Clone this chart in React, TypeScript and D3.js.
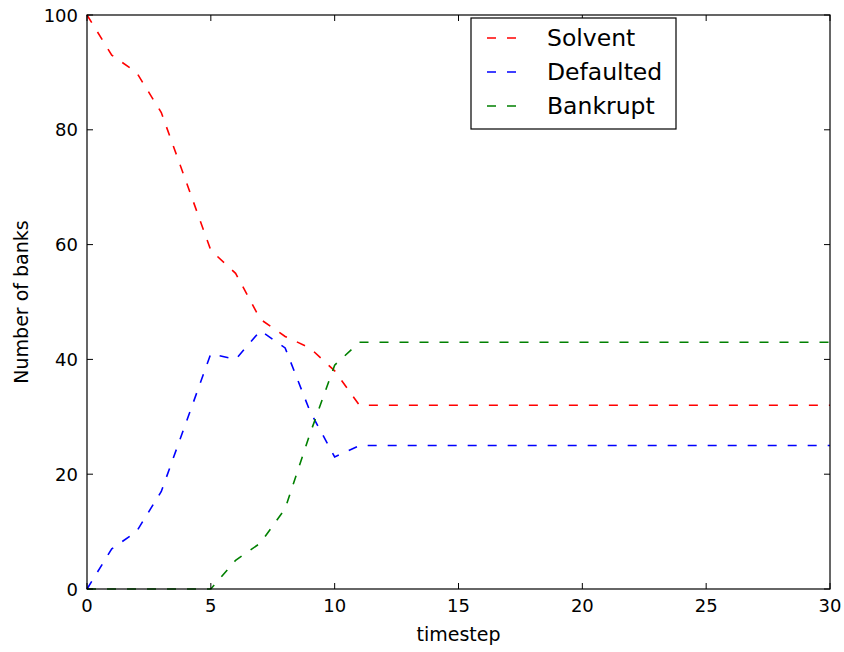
import React, { useEffect, useRef } from "react";
import * as d3 from "d3";

// timesteps 0..30
const timesteps = d3.range(0, 31);

// number of banks in each state per timestep
const solvent = [100, 93, 90, 83, 71, 59, 55, 47, 44, 42, 38, 32, 32, 32, 32, 32, 32, 32, 32, 32, 32, 32, 32, 32, 32, 32, 32, 32, 32, 32, 32];
const defaulted = [0, 7, 10, 17, 29, 41, 40, 45, 42, 31, 23, 25, 25, 25, 25, 25, 25, 25, 25, 25, 25, 25, 25, 25, 25, 25, 25, 25, 25, 25, 25];
const bankrupt = [0, 0, 0, 0, 0, 0, 5, 8, 14, 27, 39, 43, 43, 43, 43, 43, 43, 43, 43, 43, 43, 43, 43, 43, 43, 43, 43, 43, 43, 43, 43];

const seriesNames = ["Solvent", "Defaulted", "Bankrupt"];
const seriesColors = ["#ff0000", "#0000ff", "#008000"];

const xTicks = [0, 5, 10, 15, 20, 25, 30];
const yTicks = [0, 20, 40, 60, 80, 100];

const App = () => {
  const svgRef = useRef<SVGSVGElement>(null);

  useEffect(() => {
    const svg = d3.select(svgRef.current);
    svg.selectAll("*").remove();

    const width = 844;
    const height = 652;
    const margin = { top: 15, right: 14, bottom: 63, left: 87 };
    const font = "DejaVu Sans";

    const x = d3.scaleLinear().domain([0, 30]).range([margin.left, width - margin.right]);
    const y = d3.scaleLinear().domain([0, 100]).range([height - margin.bottom, margin.top]);

    svg.append("rect").attr("width", width).attr("height", height).attr("fill", "#fff");

    // lines
    const allSeries = [solvent, defaulted, bankrupt];
    const line = d3.line<number>()
      .x((d, i) => x(timesteps[i]))
      .y(d => y(d));

    allSeries.forEach((s, k) => {
      svg.append("path")
        .datum(s)
        .attr("fill", "none")
        .attr("stroke", seriesColors[k])
        .attr("stroke-width", 1.6)
        .attr("stroke-dasharray", "9,11");
    });
    svg.selectAll("path").attr("d", line as any);

    // ticks inside on all four sides (classic matplotlib)
    const tickLen = 6;
    const x0 = margin.left, x1 = width - margin.right;
    const y0 = height - margin.bottom, y1 = margin.top;

    const g = svg.append("g").attr("stroke", "#000").attr("stroke-width", 1);
    xTicks.forEach(t => {
      g.append("line").attr("x1", x(t)).attr("x2", x(t)).attr("y1", y0).attr("y2", y0 - tickLen);
      g.append("line").attr("x1", x(t)).attr("x2", x(t)).attr("y1", y1).attr("y2", y1 + tickLen);
    });
    yTicks.forEach(t => {
      g.append("line").attr("x1", x0).attr("x2", x0 + tickLen).attr("y1", y(t)).attr("y2", y(t));
      g.append("line").attr("x1", x1).attr("x2", x1 - tickLen).attr("y1", y(t)).attr("y2", y(t));
    });

    // frame
    svg.append("rect")
      .attr("x", x0).attr("y", y1)
      .attr("width", x1 - x0).attr("height", y0 - y1)
      .attr("fill", "none").attr("stroke", "#000").attr("stroke-width", 1.2);

    // tick labels
    svg.append("g").selectAll("text").data(xTicks).join("text")
      .attr("x", d => x(d)).attr("y", y0 + 23)
      .attr("text-anchor", "middle")
      .attr("font-family", font).attr("font-size", 18)
      .text(d => d);

    svg.append("g").selectAll("text").data(yTicks).join("text")
      .attr("x", x0 - 9).attr("y", d => y(d) + 6.5)
      .attr("text-anchor", "end")
      .attr("font-family", font).attr("font-size", 18)
      .text(d => d);

    // axis labels
    svg.append("text")
      .attr("x", (x0 + x1) / 2).attr("y", 641)
      .attr("text-anchor", "middle")
      .attr("font-family", font).attr("font-size", 19)
      .text("timestep");

    svg.append("text")
      .attr("transform", `translate(28, ${(y0 + y1) / 2}) rotate(-90)`)
      .attr("text-anchor", "middle")
      .attr("font-family", font).attr("font-size", 19)
      .text("Number of banks");

    // legend
    const legend = svg.append("g");
    legend.append("rect")
      .attr("x", 471).attr("y", 18).attr("width", 205).attr("height", 111)
      .attr("fill", "#fff").attr("stroke", "#000").attr("stroke-width", 1.2);
    seriesNames.forEach((name, k) => {
      const cy = 38 + k * 34;
      legend.append("line")
        .attr("x1", 487).attr("x2", 519).attr("y1", cy).attr("y2", cy)
        .attr("stroke", seriesColors[k]).attr("stroke-width", 1.6)
        .attr("stroke-dasharray", "9,11");
      legend.append("text")
        .attr("x", 547).attr("y", cy + 8)
        .attr("font-family", font).attr("font-size", 23.5)
        .text(name);
    });
  }, []);

  return (
    <svg
      ref={svgRef}
      width={844}
      height={652}
      style={{ position: "absolute", left: 0, top: 0, display: "block" }}
    />
  );
};

export default App;
